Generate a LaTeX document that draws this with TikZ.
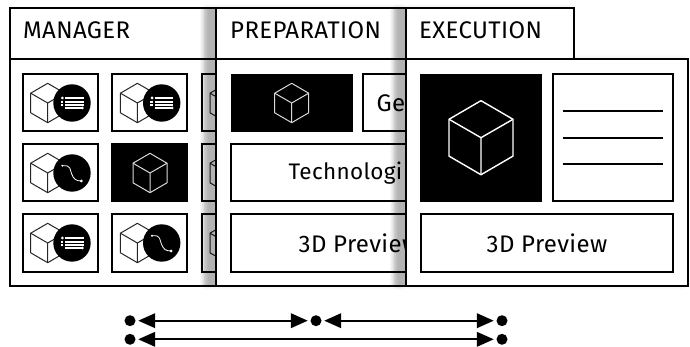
\documentclass[tikz,border=0pt]{standalone}
\usepackage{fontspec}
\setmainfont[LetterSpace=1.5]{Fira Sans}
\usetikzlibrary{arrows.meta}
\tikzset{
  x=1pt,y=-1pt,
  panelline/.style={draw=black,line width=2pt,fill=white},
  itembox/.style={draw=black,line width=2pt,fill=white,inner sep=0pt,font=\fontsize{24}{26}\selectfont},
  blackbox/.style={fill=black,draw=none,inner sep=0pt},
  tabtext/.style={anchor=base west,inner sep=0pt,font=\fontsize{24}{26}\selectfont},
  enddot/.style={circle,fill=black,draw=none,minimum size=11pt,inner sep=0pt},
  span/.style={line width=2.2pt,{Triangle[length=17pt,width=14.5pt]}-{Triangle[length=17pt,width=14.5pt]},shorten <=2.5pt,shorten >=2.5pt},
  cubeline/.style={line width=1pt,line join=round},
}
\newcommand{\hexcube}[5][1pt]{% x y scale color
  \begin{scope}[shift={(#2,#3)},scale=#4]
    \draw[cubeline,line width=#1,draw=#5] (0,-19.7)--(17,-9.8)--(17,9.8)--(0,19.7)--(-17,9.8)--(-17,-9.8)--cycle;
    \draw[cubeline,line width=#1,draw=#5] (-17,-9.8)--(0,0)--(17,-9.8) (0,0)--(0,19.7);
  \end{scope}}
\newcommand{\listbadge}[2]{%
  \begin{scope}[shift={(#1,#2)}]
    \fill[black] (24.3,0) circle (18.7);
    \draw[white,line width=1.1pt] (17.5,-5)--(36,-5) (17.5,-1)--(36,-1) (17.5,2)--(36,2) (17.5,5)--(34,5)
       (13,-1)--(15.5,-1) (13,2)--(15.5,2);
    \fill[white] (14.6,-5) circle (1.5) (34.6,5) circle (1.5);
  \end{scope}}
\newcommand{\curvebadge}[2]{%
  \begin{scope}[shift={(#1,#2)}]
    \fill[black] (24.3,0) circle (18.7);
    \draw[white,line width=.8pt] (15,-7.3) .. controls (24,-8) and (22,-3) .. (24,1) .. controls (26,6) and (28,8) .. (33.5,8);
    \fill[white] (14.6,-7.3) circle (1.1) (33.7,8) circle (1.5);
  \end{scope}}
\newcommand{\softshadow}[1]{%
  \foreach \i in {0,...,8}{\fill[black,opacity=.032] ({#1+\i},8) rectangle ({#1+16},286);}
}
\begin{document}
\begin{tikzpicture}
\useasboundingbox (0,0) rectangle (690,347);
\fill[white] (0,0) rectangle (690,347);
% ---- manager
\draw[panelline] (10,8) rectangle (300,286);
\draw[line width=2pt] (10,59.5)--(300,59.5);
\node[tabtext] (mgr) at (23,39) {MANAGER};
\foreach \cx in {60.2,149.9,239.6}{
  \foreach \cy in {103,173,243}{
    \node[itembox,minimum width=75pt,minimum height=57pt] at (\cx,\cy) {};
  }
}
\node[blackbox,minimum width=77pt,minimum height=59pt] (act) at (149.9,173) {};
\hexcube{47.7}{103}{1}{black!85}\listbadge{47.7}{103}
\hexcube{137.4}{103}{1}{black!85}\listbadge{137.4}{103}
\hexcube{47.7}{173}{1}{black!85}\curvebadge{47.7}{173}
\hexcube{150}{173}{1}{white!85!black}
\hexcube{47.7}{243}{1}{black!85}\listbadge{47.7}{243}
\hexcube{137.4}{243}{1}{black!85}\curvebadge{137.4}{243}
\hexcube{227}{103}{1}{black!85}
\hexcube{227}{173}{1}{black!85}
\hexcube{227}{243}{1}{black!85}
% ---- preparation
\foreach \i in {1,...,4}{\fill[black,opacity=.012] (204,{8-\i}) rectangle ({400+\i},{286+\i});}
\softshadow{200}
\draw[panelline] (216,8) rectangle (420,286);
\draw[line width=2pt] (216,59.5)--(420,59.5);
\node[tabtext] (prep) at (230,39) {PREPARATION};
\node[blackbox,minimum width=122pt,minimum height=58pt] (pa) at (291.7,103) {};
\hexcube{291.7}{103}{1}{white!85!black}
\node[itembox,minimum width=56pt,minimum height=57pt] (pb) at (391,103) {Ge};
\node[itembox,minimum width=229pt,minimum height=57pt,font=\fontsize{22.5}{25}\selectfont] (pc) at (345.5,173) {Technologi};
\node[itembox,minimum width=256pt,minimum height=57pt] (pd) at (359,243) {3D Preview};
% ---- execution
\foreach \i in {1,...,4}{\fill[black,opacity=.012] (394,{8-\i}) -- ({568+\i},{8-\i}) -- ({568+\i},{59-\i}) -- ({682+\i},{59-\i}) -- ({682+\i},{286+\i}) -- (394,{286+\i}) -- cycle;}
\softshadow{390}
\draw[panelline] (406,8) -- (574,8) -- (574,59.5) -- (688,59.5) -- (688,286) -- (406,286) -- cycle;
\draw[line width=2pt] (406,59.5)--(574,59.5);
\node[tabtext] (exe) at (419,39) {EXECUTION};
\node[blackbox,minimum width=122pt,minimum height=128pt] (ea) at (481,137.7) {};
\hexcube[1.4pt]{481}{137.7}{1.88}{white}
\node[itembox,minimum width=120pt,minimum height=127pt] (eb) at (613,138) {};
\draw[line width=2pt] (562.7,111)--(663,111) (562.7,138)--(663,138) (562.7,164)--(663,164);
\node[itembox,minimum width=252pt,minimum height=57pt] (ec) at (547,243) {3D Preview};
% ---- span arrows
\node[enddot] (a1) at (130,320.7) {};
\node[enddot] (a2) at (316,320.7) {};
\node[enddot] (a3) at (502,320.7) {};
\node[enddot] (b1) at (130,339.3) {};
\node[enddot] (b3) at (502,339.3) {};
\draw[span] (a1) -- (a2);
\draw[span] (a2) -- (a3);
\draw[span] (b1) -- (b3);
\end{tikzpicture}
\end{document}
